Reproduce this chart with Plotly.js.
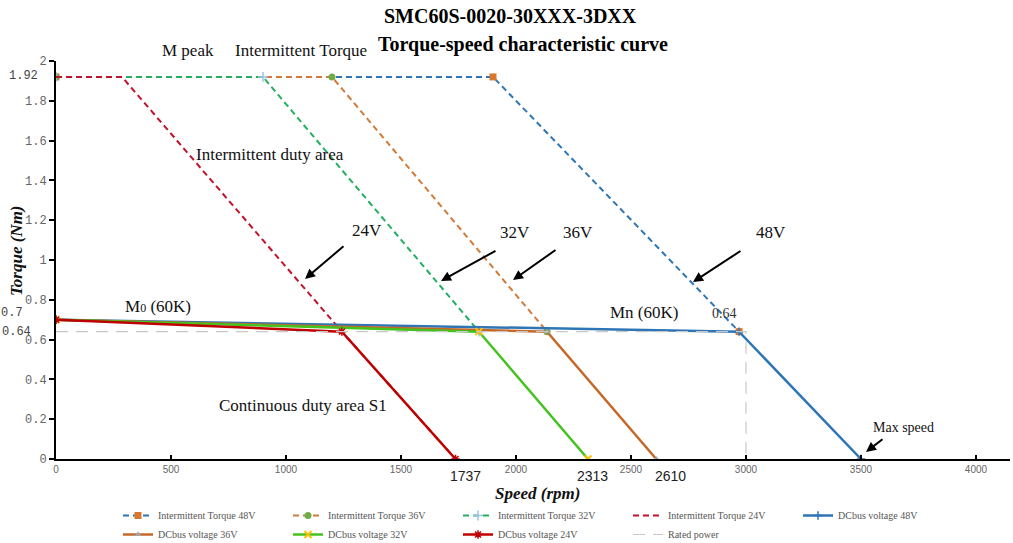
<!DOCTYPE html>
<html><head><meta charset="utf-8">
<script src="https://cdn.plot.ly/plotly-3.0.1.min.js"></script>
<style>html,body{margin:0;padding:0;background:#fff}#chart{width:1013px;height:543px}</style>
</head><body><div id="chart"></div>
<script>
// ---- data ----
const seriesNames = ["Intermittent Torque 48V","Intermittent Torque 36V","Intermittent Torque 32V","Intermittent Torque 24V",
  "DCbus voltage 48V","DCbus voltage 36V","DCbus voltage 32V","DCbus voltage 24V","Rated power"];
const int48Speed = [0, 1900, 2970];   const int48Torque = [1.92, 1.92, 0.64];
const int36Speed = [0, 1200, 2135];   const int36Torque = [1.92, 1.92, 0.64];
const int32Speed = [0, 900, 1839];    const int32Torque = [1.92, 1.92, 0.64];
const int24Speed = [0, 287, 1243, 1737]; const int24Torque = [1.92, 1.92, 0.64, 0];
const dc48Speed = [0, 2970, 3500];    const dc48Torque = [0.70, 0.64, 0];
const dc36Speed = [0, 2135, 2610];    const dc36Torque = [0.70, 0.64, 0];
const dc32Speed = [0, 1839, 2313];    const dc32Torque = [0.70, 0.64, 0];
const dc24Speed = [0, 1243, 1737];    const dc24Torque = [0.70, 0.64, 0];
const ratedSpeed = [0, 3000, 3000];   const ratedTorque = [0.64, 0.64, 0];
const xTicks = [0, 500, 1000, 1500, 2000, 2500, 3000, 3500, 4000];
const yTicks = [0, 0.2, 0.4, 0.6, 0.8, 1, 1.2, 1.4, 1.6, 1.8, 2];
const maxSpeedLabels = [1737, 2313, 2610];
const extraTorqueLabels = ["1.92", "0.7", "0.64"];
const peakTorque = 1.92, startTorque = 0.70, ratedTorqueVal = 0.64;

// ---- geometry helpers (for text placement only) ----
const L = 56, R = 3, T = 61, B = 84, W = 1013, H = 543;
const XMAX = 4148, YMAX = 2;
const pw = W - L - R, ph = H - T - B;
const PX = p => (p - L) / pw;          // pixel -> paper x
const PY = p => (H - B - p) / ph;      // pixel -> paper y

const serif = "Liberation Serif, Times New Roman, serif";
const mono = "Liberation Mono, DejaVu Sans Mono, monospace";
const dashS = "6px,4px";
const traces = [
  {name: seriesNames[0], x: int48Speed, y: int48Torque, mode: "lines+markers",
   line: {color: "#2E75B6", width: 2, dash: dashS}, marker: {symbol: "square", size: 7, color: "#D9772F"}},
  {name: seriesNames[1], x: int36Speed, y: int36Torque, mode: "lines+markers",
   line: {color: "#D27A3A", width: 2, dash: dashS}, marker: {symbol: "circle", size: 7, color: "#70AD47"}},
  {name: seriesNames[2], x: int32Speed, y: int32Torque, mode: "lines+markers",
   line: {color: "#22B060", width: 2, dash: dashS}, marker: {symbol: "cross-thin", size: 7, line: {color: "#9DC3E6", width: 1.5}}},
  {name: seriesNames[3], x: int24Speed, y: int24Torque, mode: "lines",
   line: {color: "#C0122B", width: 2, dash: dashS}},
  {name: seriesNames[4], x: dc48Speed, y: dc48Torque, mode: "lines+markers",
   line: {color: "#2E75B6", width: 2.5}, marker: {symbol: "cross-thin", size: 6, line: {color: "#2E75B6", width: 1.5}}},
  {name: seriesNames[5], x: dc36Speed, y: dc36Torque, mode: "lines+markers",
   line: {color: "#C5692A", width: 2.5}, marker: {symbol: "triangle-up", size: 6, color: "#A5A5A5"}},
  {name: seriesNames[6], x: dc32Speed, y: dc32Torque, mode: "lines+markers",
   line: {color: "#44C21E", width: 2.5}, marker: {symbol: "x-thin", size: 7, line: {color: "#FFC000", width: 2}}},
  {name: seriesNames[7], x: dc24Speed, y: dc24Torque, mode: "lines+markers",
   line: {color: "#C00000", width: 2.5}, marker: {symbol: "asterisk-open", size: 7, line: {color: "#4B63C6", width: 1.5}}},
  {name: seriesNames[8], x: ratedSpeed, y: ratedTorque, mode: "lines",
   line: {color: "#C8C8C8", width: 1.2, dash: "12px,8px"}}
];

function txt(text, px, py, size, color) {
  return {text: text, x: PX(px), y: PY(py), xref: "paper", yref: "paper", showarrow: false,
    xanchor: "center", yanchor: "middle", font: {family: serif, size: size || 17, color: color || "#111"}};
}
function arrow(hx, hy, tx, ty) {
  return {text: "", x: PX(hx), y: PY(hy), xref: "paper", yref: "paper", showarrow: true, arrowhead: 2,
    arrowsize: 1, arrowwidth: 2, arrowcolor: "#000", ax: tx - hx, ay: ty - hy};
}
const annotations = [
  txt("<b>SMC60S-0020-30XXX-3DXX</b>", 510, 16, 20, "#000"),
  txt("<b>Torque-speed characteristic curve</b>", 523, 44, 20, "#000"),
  txt("M peak", 188, 50), txt("Intermittent Torque", 301, 50),
  txt("Intermittent duty area", 270, 154),
  txt("24V", 367, 230), txt("32V", 515, 232), txt("36V", 578, 232), txt("48V", 771, 232),
  txt("M<span style='font-size:12px'>0</span> (60K)", 158, 306),
  txt("Mn (60K)", 644, 312),
  txt(String(ratedTorqueVal), 724, 313, 14, "#333"),
  txt("Continuous duty area S1", 303, 405),
  txt("Max speed", 903, 427, 14),
  arrow(305, 279, 345, 245), arrow(441, 281, 497, 250), arrow(513, 280, 557, 249),
  arrow(693, 282, 742, 250), arrow(866, 452, 884, 438),
  Object.assign(txt("<b><i>Torque (Nm)</i></b>", 17, 251, 17), {textangle: -90}),
  txt("<b><i>Speed (rpm)</i></b>", 537, 493, 17),
  {text: extraTorqueLabels[0], xref: "paper", yref: "y", x: 0, xanchor: "right", xshift: -16, y: peakTorque, yshift: 1,
   showarrow: false, font: {family: mono, size: 12, color: "#444"}},
  {text: extraTorqueLabels[1], xref: "paper", yref: "y", x: 0, xanchor: "right", xshift: -31, y: startTorque, yshift: 7,
   showarrow: false, font: {family: mono, size: 12, color: "#444"}},
  {text: extraTorqueLabels[2], xref: "paper", yref: "y", x: 0, xanchor: "right", xshift: -23, y: ratedTorqueVal, yshift: 0,
   showarrow: false, font: {family: mono, size: 12, color: "#444"}}
];
const labelShift = [10, 5, 14];
maxSpeedLabels.forEach((v, i) => annotations.push({text: String(v), x: v, y: 0, xref: "x", yref: "y",
  yanchor: "top", yshift: -7, xshift: labelShift[i], showarrow: false,
  font: {family: "Liberation Sans, Arial, sans-serif", size: 14, color: "#222"}}));

const layout = {
  width: W, height: H, margin: {l: L, r: R, t: T, b: B, autoexpand: false},
  paper_bgcolor: "#fff", plot_bgcolor: "#fff", showlegend: true, hovermode: false,
  xaxis: {range: [0, XMAX], tickvals: xTicks, ticktext: xTicks.map(String), showgrid: false, zeroline: false,
    showline: true, linecolor: "#000", linewidth: 2, ticks: "inside", ticklen: 4, tickcolor: "#000", tickwidth: 1.5,
    tickfont: {family: "Liberation Sans Narrow, Liberation Sans, Arial, sans-serif", size: 10, color: "#666"}, automargin: false},
  yaxis: {range: [0, YMAX], tickvals: yTicks, ticktext: yTicks.map(v => String(v)), showgrid: false, zeroline: false,
    showline: true, linecolor: "#000", linewidth: 2, ticks: "outside", ticklen: 5, tickcolor: "#000", tickwidth: 2,
    tickfont: {family: mono, size: 12, color: "#666"}, automargin: false},
  legend: {orientation: "h", x: PX(118), xanchor: "left", y: PY(501), yanchor: "top",
    entrywidth: 125, entrywidthmode: "pixels", font: {family: serif, size: 10, color: "#555"},
    tracegroupgap: 0, bgcolor: "rgba(0,0,0,0)"},
  annotations: annotations
};
Plotly.newPlot("chart", traces, layout, {staticPlot: true, displayModeBar: false});
</script></body></html>
